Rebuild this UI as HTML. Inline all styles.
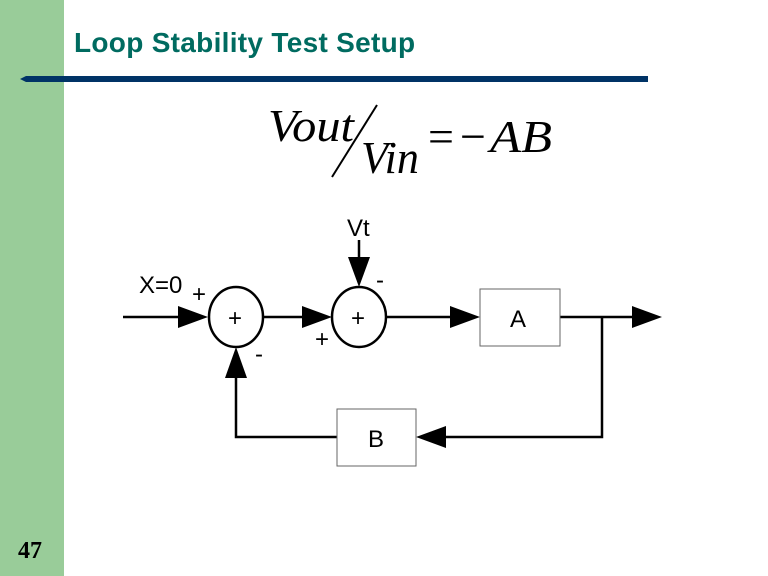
<!DOCTYPE html>
<html><head><style>
body{margin:0;width:768px;height:576px;background:#fff;position:relative;overflow:hidden;font-family:"Liberation Sans",sans-serif}
.bar{position:absolute;left:0;top:0;width:64px;height:576px;background:#99cc99}
.t{position:absolute;left:74px;top:27px;font-size:28px;font-weight:bold;color:#006b60;letter-spacing:0.3px}
.n{position:absolute;left:18px;top:538px;font:bold 24px "Liberation Serif",serif;color:#000}
</style></head><body>
<div class="bar"></div>
<div class="t">Loop Stability Test Setup</div>
<div class="n">47</div>
<svg width="768" height="576" style="position:absolute;left:0;top:0">
<polygon points="20,79 26,76 648,76 648,82 26,82" fill="#003366"/>
<g font-family="Liberation Serif,serif" font-style="italic" font-size="46" fill="#000">
<text x="268" y="141" textLength="86" lengthAdjust="spacingAndGlyphs">Vout</text>
<text x="361" y="173" textLength="58" lengthAdjust="spacingAndGlyphs">Vin</text>
<text x="490" y="152" textLength="62" lengthAdjust="spacingAndGlyphs">AB</text>
</g>
<line x1="377" y1="105" x2="332" y2="177" stroke="#000" stroke-width="2"/>
<text x="428" y="152" font-family="Liberation Serif,serif" font-size="46">=</text>
<text x="460" y="152" font-family="Liberation Serif,serif" font-size="46">−</text>
<g stroke="#000" stroke-width="2.5" fill="none">
<ellipse cx="236" cy="317" rx="27" ry="30" fill="#fff"/>
<ellipse cx="359" cy="317" rx="27" ry="30" fill="#fff"/>
<line x1="123" y1="317" x2="190" y2="317"/>
<line x1="263" y1="317" x2="314" y2="317"/>
<line x1="386" y1="317" x2="462" y2="317"/>
<line x1="560" y1="317" x2="635" y2="317"/>
<polyline points="602,317 602,437 434,437"/>
<polyline points="337,437 236,437 236,364"/>
<line x1="359" y1="240" x2="359" y2="270"/>
</g>
<g fill="#000">
<polygon points="178,306 208,317 178,328"/>
<polygon points="302,306 332,317 302,328"/>
<polygon points="450,306 480,317 450,328"/>
<polygon points="632,306 662,317 632,328"/>
<polygon points="446,426 416,437 446,448"/>
<polygon points="225,378 236,347 247,378"/>
<polygon points="348,257 359,287 370,257"/>
</g>
<rect x="480" y="289" width="80" height="57" fill="#fff" stroke="#666" stroke-width="1"/>
<rect x="337" y="409" width="79" height="57" fill="#fff" stroke="#666" stroke-width="1"/>
<g font-family="Liberation Sans,sans-serif" font-size="24" fill="#000">
<text x="510" y="327">A</text>
<text x="368" y="447">B</text>
<text x="347" y="236">Vt</text>
<text x="139" y="293">X=0</text>
<text x="192" y="302">+</text>
<text x="255" y="362">-</text>
<text x="315" y="347">+</text>
<text x="376" y="288">-</text>
<text x="228" y="326">+</text>
<text x="351" y="326">+</text>
</g>
</svg>
</body></html>
